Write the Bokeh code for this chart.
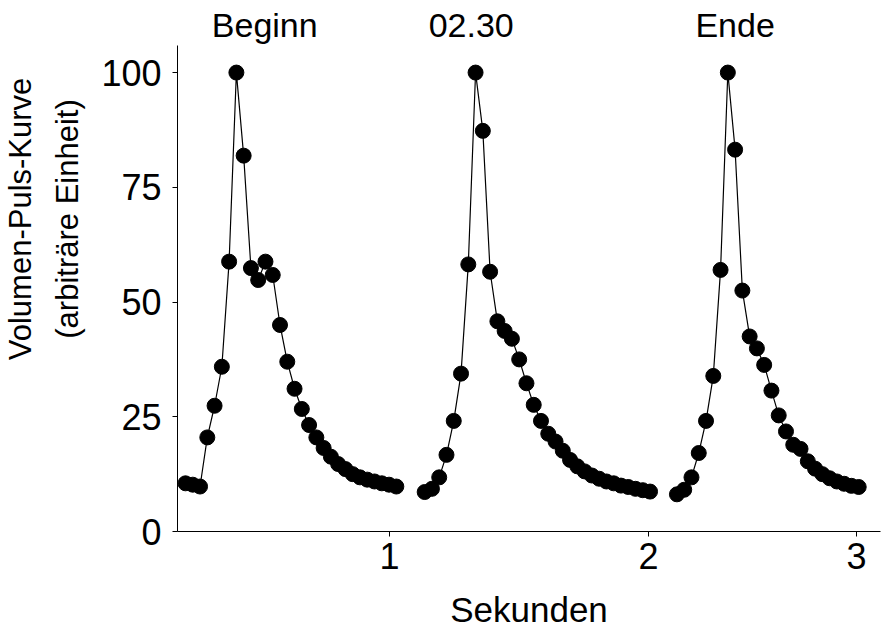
import math
from bokeh.plotting import figure
from bokeh.models import Range1d, FixedTicker, LinearAxis, ColumnDataSource
from bokeh.embed import file_html
from bokeh.resources import INLINE

# ---- data (sample index within each beat, arbitrary units) ----
beat_names = ["Beginn", "02.30", "Ende"]
beat_start = [0.0, 32.9, 67.6]          # sample offset of each beat on the common axis
beat1 = [10.5, 10.2, 9.8, 20.5, 27.4, 35.9, 58.8, 100, 81.9, 57.4, 54.8, 58.8, 55.9, 45.0,
         37.0, 31.1, 26.7, 23.2, 20.5, 18.2, 16.3, 14.7, 13.6, 12.5, 11.8, 11.3, 10.9,
         10.5, 10.2, 9.8]
beat2 = [8.6, 9.3, 11.8, 16.7, 24.1, 34.4, 58.2, 100, 87.3, 56.6, 45.8, 43.7, 42.0, 37.5,
         32.3, 27.6, 24.1, 21.3, 19.6, 17.6, 15.6, 14.2, 13.1, 12.2, 11.5, 10.9, 10.5,
         10.0, 9.7, 9.3, 9.0, 8.7]
beat3 = [8.1, 9.1, 11.8, 17.1, 24.1, 33.9, 57.0, 100, 83.2, 52.5, 42.5, 39.9, 36.3, 30.7,
         25.3, 21.8, 18.9, 18.0, 15.3, 13.7, 12.5, 11.6, 10.9, 10.4, 9.95, 9.7]
beat_label_x = [10.9, 39.3, 75.6]
x_tick_pos = [28.06, 63.7, 92.3]
x_tick_labels = ["1", "2", "3"]
y_ticks = [0, 25, 50, 75, 100]
x_title = "Sekunden"
y_title = ["Volumen-Puls-Kurve", "(arbiträre Einheit)"]
y_title_at = 68.1

FONT = "Liberation Sans"

p = figure(width=888, height=636, output_backend="svg", toolbar_location=None,
           x_range=Range1d(-1.10, 95.6), y_range=Range1d(0, 105.9),
           min_border_left=177, min_border_right=8, min_border_top=45, min_border_bottom=105)
p.outline_line_color = None
p.grid.visible = False
p.background_fill_color = "white"
p.border_fill_color = "white"

for start, ys in zip(beat_start, [beat1, beat2, beat3]):
    xs = [start + i for i in range(len(ys))]
    src = ColumnDataSource(dict(x=xs, y=ys))
    p.line("x", "y", source=src, line_color="black", line_width=1.2)
    p.scatter("x", "y", source=src, size=15, fill_color="black", line_color="black")

# main axes
for ax in (p.xaxis[0], p.yaxis[0]):
    ax.axis_line_color = "black"
    ax.axis_line_width = 1
    ax.major_tick_line_color = "black"
    ax.major_tick_in = 0
    ax.major_tick_out = 5
    ax.minor_tick_line_color = None
    ax.major_label_text_font = FONT
    ax.major_label_text_font_size = "36px"
    ax.major_label_text_color = "black"

p.xaxis.ticker = FixedTicker(ticks=x_tick_pos)
p.xaxis.major_label_overrides = {t: l for t, l in zip(x_tick_pos, x_tick_labels)}
p.xaxis.major_label_standoff = 6
p.xaxis.axis_label = x_title
p.xaxis.axis_label_text_font = FONT
p.xaxis.axis_label_text_font_size = "35px"
p.xaxis.axis_label_text_font_style = "normal"
p.xaxis.axis_label_text_color = "black"
p.xaxis.axis_label_standoff = 18

p.yaxis.ticker = FixedTicker(ticks=y_ticks)
p.yaxis.major_label_standoff = 11


def text_axis(ticks, labels, size, standoff, orientation="horizontal"):
    ax = LinearAxis(ticker=FixedTicker(ticks=ticks),
                    major_label_overrides={t: l for t, l in zip(ticks, labels)},
                    axis_line_color=None, major_tick_line_color=None,
                    minor_tick_line_color=None, major_tick_in=0, major_tick_out=0,
                    major_label_standoff=standoff, major_label_orientation=orientation,
                    major_label_text_font=FONT, major_label_text_font_size=size,
                    major_label_text_color="black")
    return ax


# beat names above the frame
p.add_layout(text_axis(beat_label_x, beat_names, "34px", 2), "above")
# y title: two rotated lines, stacked outward from the y axis
p.add_layout(text_axis([y_title_at], [y_title[1]], "31px", 13, "vertical"), "left")
p.add_layout(text_axis([y_title_at], [y_title[0]], "31px", 9, "vertical"), "left")

open("out.html", "w").write(file_html(p, INLINE))
